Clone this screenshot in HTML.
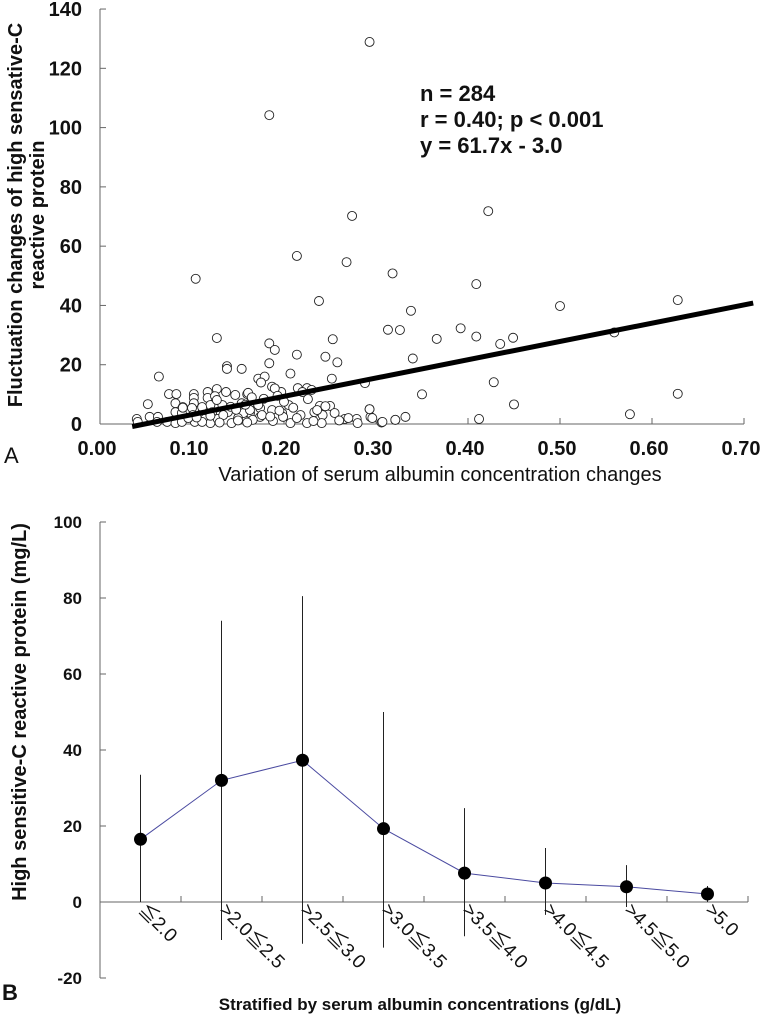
<!DOCTYPE html>
<html><head><meta charset="utf-8"><style>
html,body{margin:0;padding:0;background:#fff;}
svg{display:block;font-family:"Liberation Sans",Arial,sans-serif;}
</style></head><body>
<svg id="c" width="760" height="1021" viewBox="0 0 760 1021"></svg>
<script>
// ---- Panel A data ----
const scatterX = [0.293,0.184,0.274,0.214,0.268,0.104,0.238,0.127,0.253,0.184,0.190,0.214,0.245,0.258,0.184,0.138,0.138,0.154,0.064,0.207,0.172,0.179,0.252,0.175,
0.422,0.318,0.409,0.5,0.628,0.338,0.313,0.326,0.392,0.366,0.409,0.435,0.449,0.559,0.340,0.428,0.350,0.628,0.450,0.576,0.412,0.332,0.321,0.306,0.293,0.294,
0.288,0.187,0.215,0.225,0.160,0.197,0.226,0.239,0.25,0.205,0.293,0.255,0.266,0.279,0.296,0.307,0.321,0.233,0.242,0.218,0.198,0.187,0.174,0.163,0.155,0.174,0.188,0.207,0.225,0.241,0.214,0.199,0.163,0.236,
0.040,0.054,0.063,0.052,0.075,0.083,0.082,0.082,0.073,0.082,0.089,0.089,0.102,0.102,0.102,0.100,0.101,0.103,0.111,0.117,0.117,0.127,0.125,0.120,0.122,0.114,0.120,0.128,0.133,0.137,0.139,0.147,0.143,0.154,0.156,0.161,0.163,0.166,0.172,0.176,0.150,0.062,0.041,0.096,0.090,0.127,0.134,0.111,0.111,
0.19,0.193,0.178,0.2,0.195,0.185,0.21,0.22,0.23,0.245,0.232,0.26,0.27,0.28,0.16,0.15,0.13,0.12,0.09,0.105,0.142,0.165,0.158,0.148];
const scatterY = [128.9,104.2,70.2,56.7,54.6,49,41.5,29,28.6,27.2,25,23.4,22.7,20.8,20.5,19.5,18.6,18.6,16,17,15.3,16,15.3,14,
71.8,50.8,47.2,39.8,41.8,38.2,31.8,31.7,32.3,28.7,29.5,27,29.1,30.9,22.1,14.1,10.0,10.2,6.6,3.3,1.7,2.4,1.4,0.5,5,2.4,
13.8,12.6,12.1,12.1,10.1,10.8,8.4,6.1,6.1,6.4,5,3.7,1.7,1.7,2,0.7,1.4,4,3,3,3.7,4.7,5.4,3.7,2,2.4,1,0.3,0.3,0.3,2,2.4,7,4.7,
1.7,2.4,2.4,6.7,10.1,10.1,7,4,0.7,0.3,3.7,0.7,10.1,8.8,7,5.4,3,0.7,3.7,10.8,8.8,11.8,9.4,6.4,4,1.7,0.3,1.7,6.4,10.8,4,9.8,0.3,7,3.7,10.5,4.7,1.4,6.4,3,2,0.7,0.7,2,5.7,8.1,3,5.7,0.7,
12.0,9.5,8.5,7.5,4.5,2.5,5.5,10.8,11.5,6.0,1.0,1.2,2.0,0.3,0.5,1.2,0.5,2.8,5.5,2.2,5.8,9.0,6.5,4.8];
const fitSlope = 61.7, fitIntercept = -3.0, fitRange = [0.035, 0.71];
const aYTicks = [0,20,40,60,80,100,120,140];
const aXTicks = [0,0.1,0.2,0.3,0.4,0.5,0.6,0.7];
// ---- Panel B data ----
const bCategories = ["≦2.0",">2.0≦2.5",">2.5≦3.0",">3.0≦3.5",">3.5≦4.0",">4.0≦4.5",">4.5≦5.0",">5.0"];
const bMeans = [16.5,32,37.3,19.3,7.6,5.0,4.0,2.1];
const bUpper = [33.5,74,80.5,50,24.7,14.2,9.7,4.2];
const bLower = [0,-10,-11,-12,-9,-3.4,-1.3,0];
const bYTicks = [-20,0,20,40,60,80,100];

const NS="http://www.w3.org/2000/svg", svg=document.getElementById('c');
function mk(tag, attrs, parent){const e=document.createElementNS(NS,tag);for(const k in attrs)e.setAttribute(k,attrs[k]);(parent||svg).appendChild(e);return e;}

const ax = v => 100 + 920*v;
const ay = v => 424 - 2.964*v;
const gA = mk('g',{});


let l=mk('line',{x1:100,y1:ay(140),x2:100,y2:424,stroke:'#666','stroke-width':1},gA);

l=mk('line',{x1:100,y1:424,x2:ax(0.7),y2:424,stroke:'#666','stroke-width':1},gA);

aYTicks.forEach(t=>{
  mk('line',{x1:100,y1:ay(t),x2:106,y2:ay(t),stroke:'#666'},gA);
  const tx=mk('text',{x:82,y:ay(t)+7,'text-anchor':'end','font-size':20,'font-weight':'bold',fill:'#111'},gA);
  tx.textContent=t;
  
});
aXTicks.forEach(t=>{
  if(t>0) mk('line',{x1:ax(t),y1:424,x2:ax(t),y2:418,stroke:'#666'},gA);
  const tx=mk('text',{x:ax(t)-3,y:455,'text-anchor':'middle','font-size':20,'font-weight':'bold',fill:'#111'},gA);
  tx.textContent=t.toFixed(2);
  
});
scatterX.forEach((x,i)=>{
  const c=mk('circle',{cx:ax(x),cy:ay(scatterY[i]),r:4.5,fill:'#fff',stroke:'#222','stroke-width':0.9},gA);
  
  
});
l=mk('line',{x1:ax(fitRange[0]),y1:ay(fitSlope*fitRange[0]+fitIntercept),x2:ax(fitRange[1]),y2:ay(fitSlope*fitRange[1]+fitIntercept),stroke:'#000','stroke-width':5},gA);

</script>
<script>
(function(){
const s=document.getElementById('c');
s.insertAdjacentHTML('beforeend',
`<g font-size="22" font-weight="bold" fill="#111">
<text x="420" y="101">n = 284</text><text x="420" y="127">r = 0.40; p &lt; 0.001</text><text x="420" y="153">y = 61.7x - 3.0</text></g>
<text transform="translate(22,215) rotate(-90)" text-anchor="middle" font-size="20" font-weight="bold" fill="#111">Fluctuation changes of high sensative-C</text>
<text transform="translate(44,215) rotate(-90)" text-anchor="middle" font-size="20" font-weight="bold" fill="#111">reactive protein</text>
<text x="440" y="481" text-anchor="middle" font-size="20" fill="#111">Variation of serum albumin concentration changes</text>
<text x="4" y="463" font-size="22" fill="#111">A</text>
<text x="2" y="1000" font-size="22" font-weight="bold" fill="#111">B</text>
<text transform="translate(26,712) rotate(-90)" text-anchor="middle" font-size="20" font-weight="bold" fill="#111">High sensitive-C reactive protein (mg/L)</text>
<text x="420" y="1010" text-anchor="middle" font-size="17" font-weight="bold" fill="#111">Stratified by serum albumin concentrations (g/dL)</text>`);
})();
</script>
<script>
(function(){
const NS="http://www.w3.org/2000/svg", svg=document.getElementById('c');
function mk(tag, attrs, parent){const e=document.createElementNS(NS,tag);for(const k in attrs)e.setAttribute(k,attrs[k]);(parent||svg).appendChild(e);return e;}
const band=81;
const bx = i => 100 + band*(i+0.5);
const by = v => 902 - 3.8*v;
const g=mk('g',{});


let l=mk('line',{x1:100,y1:by(100),x2:100,y2:by(-20),stroke:'#666'},g);

l=mk('line',{x1:100,y1:by(0),x2:100+band*bCategories.length,y2:by(0),stroke:'#666'},g);

bYTicks.forEach(t=>{
  mk('line',{x1:100,y1:by(t),x2:106,y2:by(t),stroke:'#666'},g);
  const tx=mk('text',{x:82,y:by(t)+6,'text-anchor':'end','font-size':17,'font-weight':'bold',fill:'#111'},g);
  tx.textContent=t;
  
});
for(let i=1;i<=bCategories.length;i++) mk('line',{x1:100+band*i,y1:by(0),x2:100+band*i,y2:by(0)-6,stroke:'#666'},g);
bCategories.forEach((c,i)=>{
  const e=mk('line',{x1:bx(i),y1:by(bUpper[i]),x2:bx(i),y2:by(bLower[i]),stroke:'#222','stroke-width':1},g);
  
  
  const tx=mk('text',{transform:`translate(${bx(i)-3},${by(0)+9}) rotate(45)`,'font-size':19,fill:'#111','font-family':'"Liberation Sans","Noto Sans CJK JP",sans-serif'},g);
  tx.textContent=c;
  
  
});
const pl=mk('polyline',{points:bMeans.map((v,i)=>bx(i)+','+by(v)).join(' '),fill:'none',stroke:'#4a4aa0','stroke-width':1},g);

bMeans.forEach((v,i)=>{
  const c=mk('circle',{cx:bx(i),cy:by(v),r:6.5,fill:'#000'},g);
  
  
});
})();
</script>
</body></html>
